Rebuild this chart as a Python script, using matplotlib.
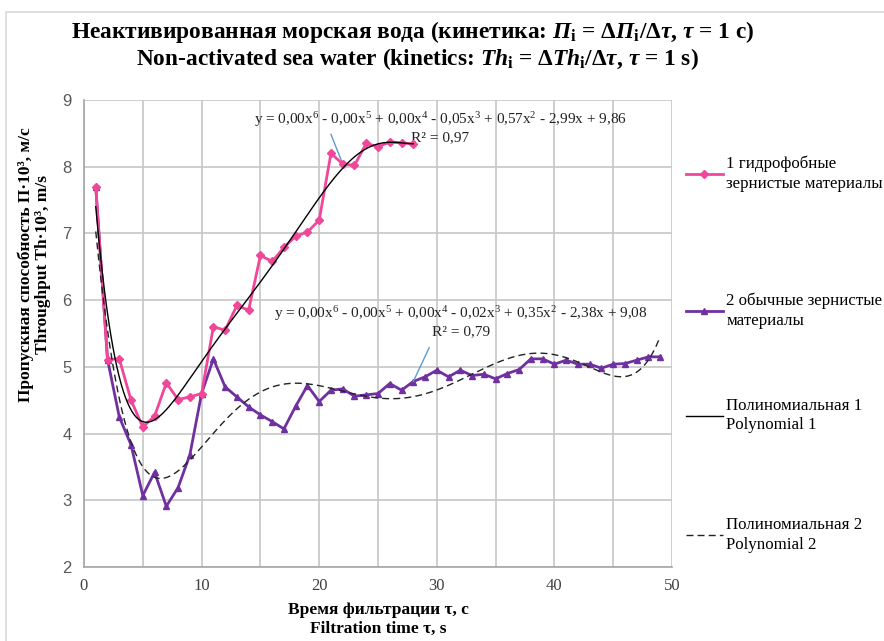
import numpy as np
import matplotlib
matplotlib.use("Agg")
import matplotlib.pyplot as plt
from matplotlib.lines import Line2D
from matplotlib.patches import Rectangle

plt.rcParams["font.family"] = ["Liberation Serif", "DejaVu Serif"]
plt.rcParams["mathtext.fontset"] = "custom"
plt.rcParams["mathtext.rm"] = "Liberation Serif"
plt.rcParams["mathtext.it"] = "Liberation Serif:italic"
plt.rcParams["mathtext.bf"] = "Liberation Serif:bold"
plt.rcParams["mathtext.bfit"] = "Liberation Serif:bold:italic"

# Time, s
t_hydrophobic = list(range(1, 29))
t_ordinary = list(range(1, 50))

# Throughput Th*10^3, m/s
th_hydrophobic = [7.70, 5.11, 5.12, 4.50, 4.10, 4.26, 4.76, 4.51, 4.55, 4.60,
                  5.60, 5.55, 5.92, 5.85, 6.67, 6.58, 6.79, 6.96, 7.02, 7.20,
                  8.20, 8.04, 8.02, 8.35, 8.30, 8.37, 8.36, 8.34]
th_ordinary = [7.70, 5.11, 4.25, 3.83, 3.07, 3.42, 2.91, 3.19, 3.68, 4.60,
               5.12, 4.70, 4.55, 4.40, 4.28, 4.18, 4.07, 4.41, 4.72, 4.48,
               4.65, 4.67, 4.56, 4.58, 4.60, 4.75, 4.65, 4.78, 4.85, 4.95,
               4.85, 4.95, 4.87, 4.89, 4.82, 4.90, 4.96, 5.12, 5.12, 5.04,
               5.10, 5.04, 5.04, 4.98, 5.04, 5.05, 5.10, 5.15, 5.15]

legend_labels = ["1 гидрофобные\nзернистые материалы",
                 "2 обычные зернистые\nматериалы",
                 "Полиномиальная 1\nPolynomial 1",
                 "Полиномиальная 2\nPolynomial 2"]

eq1 = ("y = 0,00x$^{6}$ - 0,00x$^{5}$ + 0,00x$^{4}$ - 0,05x$^{3}$ + 0,57x$^{2}$ - 2,99x + 9,86\n"
       "R² = 0,97")
eq2 = ("y = 0,00x$^{6}$ - 0,00x$^{5}$ + 0,00x$^{4}$ - 0,02x$^{3}$ + 0,35x$^{2}$ - 2,38x + 9,08\n"
       "R² = 0,79")

pink = "#F0479A"
purple = "#7030A0"
grid_c = "#C6C6C6"

fig = plt.figure(figsize=(8.84, 6.41), dpi=100)
fig.patches.append(Rectangle((6 / 884, -0.01), 1.0, (641 - 12) / 641 + 0.01,
                             transform=fig.transFigure, fill=False,
                             edgecolor="#D9D9D9", lw=1.2))
ax = fig.add_axes([84 / 884, 1 - 567 / 641, (672 - 84) / 884, (567 - 100) / 641])

# 6th-degree polynomial trend lines
x1 = np.array(t_hydrophobic, dtype=float)
y1 = np.array(th_hydrophobic)
x2 = np.array(t_ordinary, dtype=float)
y2 = np.array(th_ordinary)
p1 = np.poly1d(np.polyfit(x1, y1, 6))
p2 = np.poly1d(np.polyfit(x2, y2, 6))
xs1 = np.linspace(x1.min(), x1.max(), 300)
xs2 = np.linspace(x2.min(), x2.max(), 400)

ax.plot(x1, y1, color=pink, lw=2.0, marker="D", ms=4.5, zorder=4)
ax.plot(x2, y2, color=purple, lw=2.0, marker="^", ms=5, zorder=3)
ax.plot(xs1, p1(xs1), color="black", lw=1.0, zorder=5)
ax.plot(xs2, p2(xs2), color="#222222", lw=1.0, ls=(0, (5, 3)), zorder=5)

ax.set_xlim(0, 50)
ax.set_ylim(2, 9)
ax.set_xticks(range(0, 51, 10))
ax.set_xticks(range(0, 51, 5), minor=True)
ax.set_yticks(range(2, 10))
ax.grid(True, which="both", color=grid_c, lw=1.2)
ax.set_axisbelow(True)
for s in ["top", "right"]:
    ax.spines[s].set_visible(False)
for s in ["left", "bottom"]:
    ax.spines[s].set_color("#A6A6A6")
    ax.spines[s].set_linewidth(1.2)
ax.tick_params(which="both", length=0)
ax.tick_params(axis="x", pad=8, labelsize=12, labelcolor="#404040")
ax.tick_params(axis="y", pad=9, labelsize=12, labelcolor="#595959")
for lbl in ax.get_yticklabels():
    lbl.set_fontfamily("Liberation Sans")

ax.set_xlabel("Время фильтрации τ, с\nFiltration time τ, s",
              fontsize=12.5, fontweight="bold", labelpad=6, linespacing=1.2)
ax.set_ylabel("Пропускная способность П·10³, м/с\nThroughput Th·10³, m/s",
              fontsize=12.5, fontweight="bold", linespacing=1.1)
ax.yaxis.set_label_coords(-0.056, (567 - 265) / 467)

fig.text(413 / 884, 1 - 32 / 641,
         r"Неактивированная морская вода (кинетика: $\mathbfit{П}_\mathbf{i}$ = "
         r"Δ$\mathbfit{П}_\mathbf{i}$/Δ$\mathbfit{τ}$, $\mathbfit{τ}$ = 1 с)",
         ha="center", va="center", fontsize=16.8, fontweight="bold")
fig.text(417 / 884, 1 - 59 / 641,
         r"Non-activated sea water (kinetics: $\mathbfit{Th}_\mathbf{i}$ = "
         r"Δ$\mathbfit{Th}_\mathbf{i}$/Δ$\mathbfit{τ}$, $\mathbfit{τ}$ = 1 s)",
         ha="center", va="center", fontsize=16.8, fontweight="bold")

# Trend-line equations with leader lines
ax.text((440 - 84) / 588 * 50, 9 - (127 - 100) / 66.7, eq1, ha="center", va="center",
        fontsize=11, linespacing=1.15, color="#222222")
ax.text((461 - 84) / 588 * 50, 9 - (321 - 100) / 66.7, eq2, ha="center", va="center",
        fontsize=11, linespacing=1.15, color="#222222")
ax.annotate("", xy=(22, th_hydrophobic[21]), xytext=(-8.5, 21.5),
            textcoords="offset points",
            arrowprops=dict(arrowstyle="-", color="#5B9BD5", lw=1.0, shrinkA=0, shrinkB=0))
ax.annotate("", xy=(28, th_ordinary[27]), xytext=(11.5, 24.5),
            textcoords="offset points",
            arrowprops=dict(arrowstyle="-", color="#5B9BD5", lw=1.0, shrinkA=0, shrinkB=0))

handles = [Line2D([], [], color=pink, lw=2.0, marker="D", ms=4),
           Line2D([], [], color=purple, lw=2.0, marker="^", ms=4.5),
           Line2D([], [], color="black", lw=1.0),
           Line2D([], [], color="#222222", lw=1.0, ls=(0, (5, 3)))]
leg_kw = dict(loc="upper left", frameon=False, fontsize=12.2, handlelength=2.2,
              handletextpad=0.2, borderaxespad=0)
leg_a = fig.legend(handles[:2], legend_labels[:2],
                   bbox_to_anchor=(679 / 884, 1 - 149 / 641), labelspacing=5.95, **leg_kw)
leg_b = fig.legend(handles[2:], legend_labels[2:],
                   bbox_to_anchor=(679 / 884, 1 - 391 / 641), labelspacing=4.95, **leg_kw)
for leg in (leg_a, leg_b):
    for t in leg.get_texts():
        t.set_linespacing(1.3)

fig.savefig("out.png", dpi=100, facecolor="white")
